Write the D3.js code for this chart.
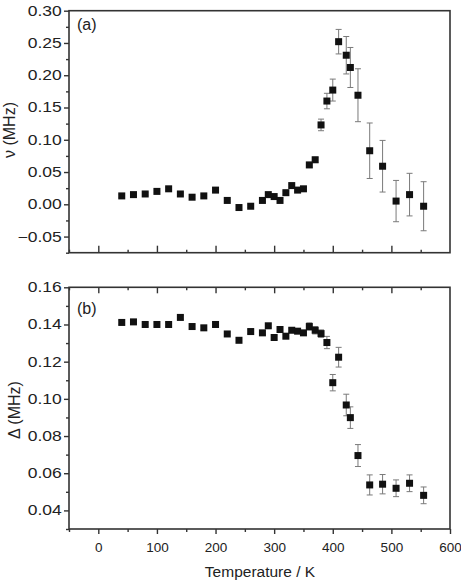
<!DOCTYPE html>
<html>
<head>
<meta charset="utf-8">
<script src="https://cdn.jsdelivr.net/npm/d3@7"></script>
<style>
  body { margin: 0; background: #fff; }
  svg text { font-family: "Liberation Sans", Arial, sans-serif; fill: #222; }
</style>
</head>
<body>
<svg id="chart" width="461" height="583"></svg>
<script>
'use strict';

/* data */
var temps = [40, 60, 80, 100, 120, 140, 160, 180, 200, 220, 240, 260, 280, 290, 300, 310, 320, 330, 340, 350,
  360, 370, 380, 390, 400, 410, 423, 430, 443, 463, 485, 508, 531, 555];

var nu = [0.013, 0.015, 0.016, 0.020, 0.024, 0.016, 0.011, 0.013, 0.022, 0.006, -0.005, -0.003, 0.006, 0.015, 0.012, 0.006, 0.018, 0.029, 0.022, 0.024,
  0.061, 0.069, 0.123, 0.160, 0.177, 0.252, 0.231, 0.212, 0.169, 0.083, 0.059, 0.005, 0.015, -0.003];
var nuErr = [0.002, 0.002, 0.002, 0.002, 0.002, 0.002, 0.002, 0.002, 0.002, 0.002, 0.002, 0.002, 0.002, 0.002, 0.002, 0.002, 0.002, 0.002, 0.002, 0.002,
  0.004, 0.004, 0.009, 0.012, 0.017, 0.019, 0.029, 0.031, 0.041, 0.043, 0.040, 0.032, 0.033, 0.038];

var delta = [0.1411, 0.1414, 0.1400, 0.1400, 0.1400, 0.1438, 0.1389, 0.1382, 0.1400, 0.1349, 0.1315, 0.1362, 0.1355, 0.1393, 0.1330, 0.1373, 0.1337, 0.1369, 0.1364, 0.1355,
  0.1389, 0.1369, 0.1351, 0.1303, 0.1087, 0.1224, 0.0967, 0.0899, 0.0695, 0.0537, 0.0541, 0.0519, 0.0546, 0.0481];
var deltaErr = [0.001, 0.001, 0.001, 0.001, 0.001, 0.001, 0.001, 0.001, 0.001, 0.001, 0.001, 0.001, 0.001, 0.001, 0.001, 0.001, 0.001, 0.001, 0.001, 0.001,
  0.002, 0.002, 0.002, 0.0033, 0.0044, 0.0053, 0.0058, 0.0058, 0.0059, 0.0054, 0.0052, 0.0045, 0.0045, 0.0045];

var xTicks = [0, 100, 200, 300, 400, 500, 600];
var xMinor = [-50, 50, 150, 250, 350, 450, 550];
var nuTicks = [-0.05, 0.00, 0.05, 0.10, 0.15, 0.20, 0.25, 0.30];
var deltaTicks = [0.04, 0.06, 0.08, 0.10, 0.12, 0.14, 0.16];

var svg = d3.select('#chart');
var left = 69, right = 450;

var x = d3.scaleLinear().domain([-50, 600]).range([left, right]);

function drawPanel(o) {
  var y = d3.scaleLinear().domain(o.domain).range([o.bottom, o.top]);
  var g = svg.append('g');

  // minor y ticks (outward)
  g.append('g').attr('transform', 'translate(' + left + ',0)')
    .call(d3.axisLeft(y).tickValues(o.yMinor).tickSize(3).tickFormat(''))
    .call(tidy);

  // major y ticks with labels, stretched a bit like the original
  g.append('g').attr('transform', 'translate(' + left + ',0)')
    .call(d3.axisLeft(y).tickValues(o.yTicks).tickSize(5).tickFormat(d3.format('.2f')))
    .call(tidy)
    .selectAll('text')
    .attr('x', -7.3 / 1.25)
    .attr('transform', 'scale(1.25,1)')
    .style('font-size', '14px');

  // x ticks along the bottom of the panel
  var bx = g.append('g').attr('transform', 'translate(0,' + o.bottom + ')');
  if (o.labels) {
    bx.call(d3.axisBottom(x).tickValues(xMinor).tickSize(3).tickFormat('')).call(tidy);
    var lab = g.append('g').attr('transform', 'translate(0,' + o.bottom + ')')
      .call(d3.axisBottom(x).tickValues(xTicks).tickSize(5).tickFormat(d3.format('d')))
      .call(tidy);
    lab.selectAll('text').attr('y', 22.7).attr('dy', 0).style('font-size', '13.5px');
  } else {
    // inward
    bx.call(d3.axisTop(x).tickValues(xMinor).tickSize(3).tickFormat('')).call(tidy);
    g.append('g').attr('transform', 'translate(0,' + o.bottom + ')')
      .call(d3.axisTop(x).tickValues(xTicks.slice(0, -1)).tickSize(7).tickFormat('')).call(tidy);
  }

  // top-edge ticks point inward for the lower panel
  if (o.topTicks) {
    g.append('g').attr('transform', 'translate(0,' + o.top + ')')
      .call(d3.axisBottom(x).tickValues(xMinor).tickSize(3).tickFormat('')).call(tidy);
    g.append('g').attr('transform', 'translate(0,' + o.top + ')')
      .call(d3.axisBottom(x).tickValues(xTicks.slice(0, -1)).tickSize(6).tickFormat('')).call(tidy);
  }

  // frame
  g.append('rect')
    .attr('x', left).attr('y', o.top)
    .attr('width', right - left).attr('height', o.bottom - o.top)
    .attr('fill', 'none').attr('stroke', '#333').attr('stroke-width', 1.6);

  // error bars
  var pts = temps.map(function(t, i) { return { t: t, v: o.values[i], e: o.errors[i] }; });
  var eb = g.append('g').attr('stroke', '#7a7a7a').attr('stroke-width', 1);
  eb.selectAll('line.v').data(pts).enter().append('line')
    .attr('x1', function(d) { return x(d.t); }).attr('x2', function(d) { return x(d.t); })
    .attr('y1', function(d) { return y(d.v - d.e); }).attr('y2', function(d) { return y(d.v + d.e); });
  [-1, 1].forEach(function(s) {
    eb.selectAll('line.c' + s).data(pts).enter().append('line')
      .attr('x1', function(d) { return x(d.t) - 3; }).attr('x2', function(d) { return x(d.t) + 3; })
      .attr('y1', function(d) { return y(d.v + s * d.e); }).attr('y2', function(d) { return y(d.v + s * d.e); });
  });

  // square markers
  g.append('g').selectAll('rect').data(pts).enter().append('rect')
    .attr('x', function(d) { return x(d.t) - 3.5; })
    .attr('y', function(d) { return y(d.v) - 3.5; })
    .attr('width', 7).attr('height', 7)
    .attr('fill', '#111');

  // panel letter
  g.append('text').attr('x', 77).attr('y', o.letterY)
    .style('font-size', '16px').text(o.letter);

  // y title
  g.append('text')
    .attr('transform', 'translate(' + o.titleX + ',' + o.titleY + ') rotate(-90)')
    .attr('text-anchor', 'middle')
    .style('font-size', '16px')
    .text(o.title);
}

function tidy(sel) {
  sel.select('.domain').remove();
  sel.selectAll('line').attr('stroke', '#333').attr('stroke-width', 1.4);
}

drawPanel({
  domain: [-0.075, 0.30], top: 10.7, bottom: 252.7,
  yTicks: nuTicks, yMinor: [-0.075, -0.025, 0.025, 0.075, 0.125, 0.175, 0.225, 0.275],
  values: nu, errors: nuErr,
  letter: '(a)', letterY: 30,
  title: 'ν (MHz)', titleX: 15, titleY: 130,
  labels: false, topTicks: false
});

drawPanel({
  domain: [0.03, 0.16], top: 287.3, bottom: 529,
  yTicks: deltaTicks, yMinor: [0.03, 0.05, 0.07, 0.09, 0.11, 0.13, 0.15],
  values: delta, errors: deltaErr,
  letter: '(b)', letterY: 314,
  title: 'Δ (MHz)', titleX: 19.5, titleY: 410,
  labels: true, topTicks: true
});

svg.append('text')
  .attr('x', 260).attr('y', 577)
  .attr('text-anchor', 'middle')
  .style('font-size', '15.5px')
  .text('Temperature / K');
</script>
</body>
</html>
